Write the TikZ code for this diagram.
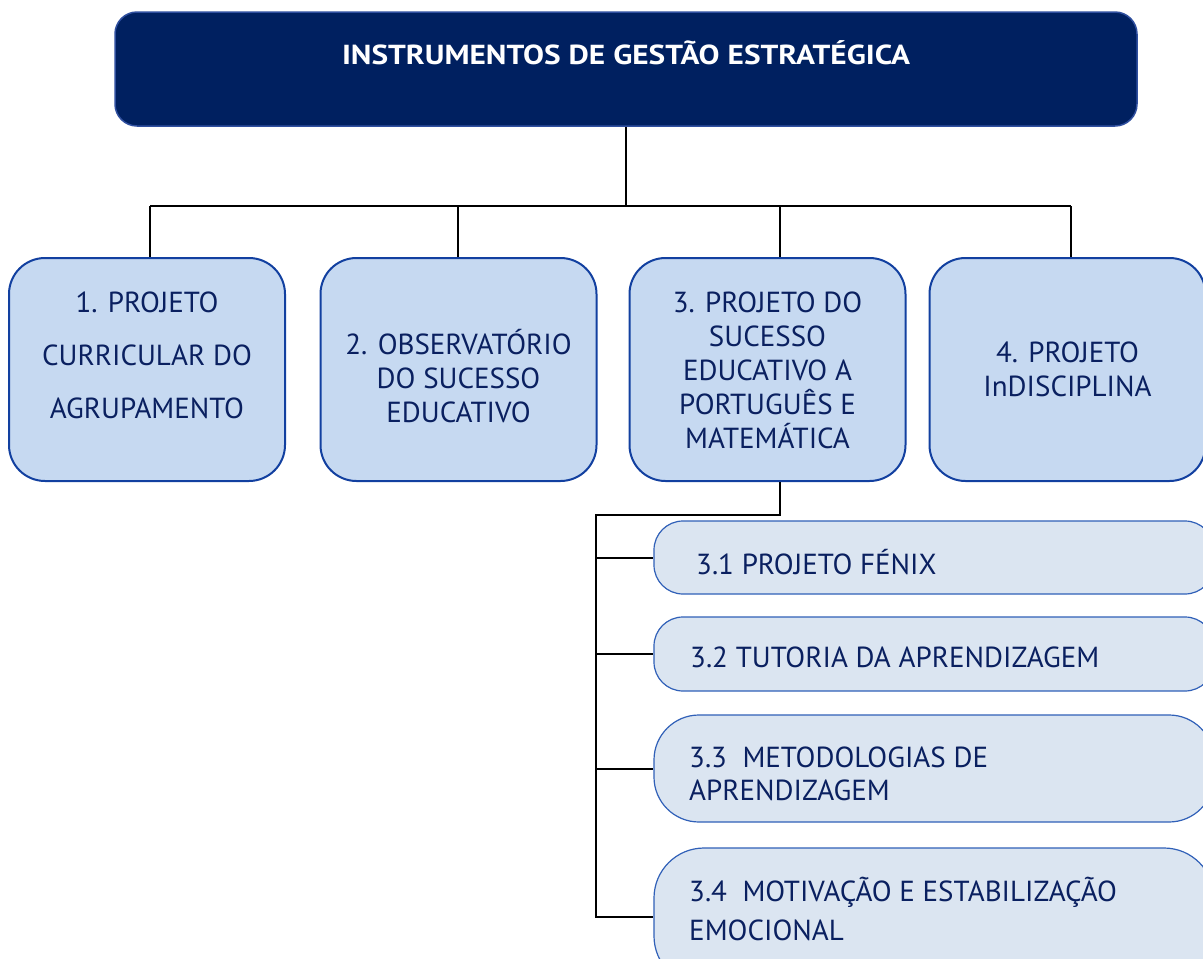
\documentclass[tikz,border=0pt]{standalone}
\usepackage{fontspec}
\setmainfont{PT Sans}
\definecolor{navy}{HTML}{002060}
\definecolor{navyedge}{HTML}{2F4F9F}
\definecolor{lvlfill}{HTML}{C6D9F1}
\definecolor{lvledge}{HTML}{1240A0}
\definecolor{subfill}{HTML}{DBE5F1}
\definecolor{subedge}{HTML}{3060B8}
\definecolor{txtnavy}{HTML}{0A2060}
\tikzset{
  topbox/.style={draw=navyedge, line width=1.5pt, fill=navy, rounded corners=22pt, inner sep=0pt},
  lvlbox/.style={draw=lvledge, line width=2pt, fill=lvlfill, rounded corners=36pt, inner sep=0pt,
    minimum width=276pt, minimum height=223pt},
  subbox/.style={draw=subedge, line width=1.2pt, fill=subfill, inner sep=0pt},
  conn/.style={draw=black, line width=2pt},
  lvltxt/.style={text=txtnavy, align=center, inner sep=0pt, font=\fontsize{29}{34}\selectfont},
  subtxt/.style={text=txtnavy, align=left, anchor=west, inner sep=0pt, font=\fontsize{29}{33}\selectfont},
}
\begin{document}
\begin{tikzpicture}[x=1pt,y=-1pt]
\useasboundingbox (0,0) rectangle (1203,959);
\clip (0,0) rectangle (1203,959);
\fill[white] (0,0) rectangle (1203,959);

% top box
\node[topbox, minimum width=1022pt, minimum height=114pt] (top) at (626,69) {};
\node[text=white, inner sep=0pt, font=\bfseries\fontsize{27.5}{32}\selectfont] (title) at (626,53) {\scalebox{1.14}[1]{INSTRUMENTOS DE GESTÃO ESTRATÉGICA}};

% junction coordinates
\coordinate (j1) at (150,206);
\coordinate (j2) at (458,206);
\coordinate (j3) at (780,206);
\coordinate (j4) at (1071,206);
\coordinate (jt) at (626,206);

% level boxes
\node[lvlbox] (b1) at (147,369.5) {};
\node[lvlbox] (b2) at (458.5,369.5) {};
\node[lvlbox] (b3) at (767.5,369.5) {};
\node[lvlbox] (b4) at (1067.5,369.5) {};

\node[lvltxt, font=\fontsize{29}{53}\selectfont] (t1) at (147,355) {1. PROJETO\\CURRICULAR DO\\AGRUPAMENTO};
\node[lvltxt] (t2) at (458.5,376) {2. OBSERVATÓRIO\\DO SUCESSO\\EDUCATIVO};
\node[lvltxt] (t3) at (767.5,370) {3. PROJETO DO\\SUCESSO\\EDUCATIVO A\\PORTUGUÊS E\\MATEMÁTICA};
\node[lvltxt] (t4) at (1067.5,369) {4. PROJETO\\InDISCIPLINA};

% connectors level 0 -> 1
\draw[conn] (top.south) -- (jt);
\draw[conn] (j1) -- (j4);
\draw[conn] (j1) -- (j1 |- b1.north);
\draw[conn] (j2) -- (j2 |- b2.north);
\draw[conn] (j3) -- (j3 |- b3.north);
\draw[conn] (j4) -- (j4 |- b4.north);

% sub boxes
\node[subbox, rounded corners=29pt, minimum width=560pt, minimum height=73pt] (s1) at (934,557.5) {};
\node[subbox, rounded corners=29pt, minimum width=560pt, minimum height=74pt] (s2) at (934,654) {};
\node[subbox, rounded corners=45pt, minimum width=560pt, minimum height=107pt] (s3) at (934,768.5) {};
\node[subbox, rounded corners=50pt, minimum width=560pt, minimum height=138pt] (s4) at (934,917) {};

\node[subtxt] (u1) at (696,562) {3.1 PROJETO FÉNIX};
\node[subtxt] (u2) at (690,657) {3.2 TUTORIA DA APRENDIZAGEM};
\node[subtxt] (u3) at (689,773.5) {3.3~~METODOLOGIAS DE\\APRENDIZAGEM};
\node[subtxt, font=\fontsize{29}{39}\selectfont] (u4) at (689,908.5) {3.4~~MOTIVAÇÃO E ESTABILIZAÇÃO\\EMOCIONAL};

% connectors level 1 -> 2
\coordinate (k) at (596,515);
\draw[conn] (j3 |- b3.south) |- (k) |- (s4.west);
\draw[conn] (k |- s1.west) -- (s1.west);
\draw[conn] (k |- s2.west) -- (s2.west);
\draw[conn] (k |- s3.west) -- (s3.west);
\end{tikzpicture}
\end{document}
